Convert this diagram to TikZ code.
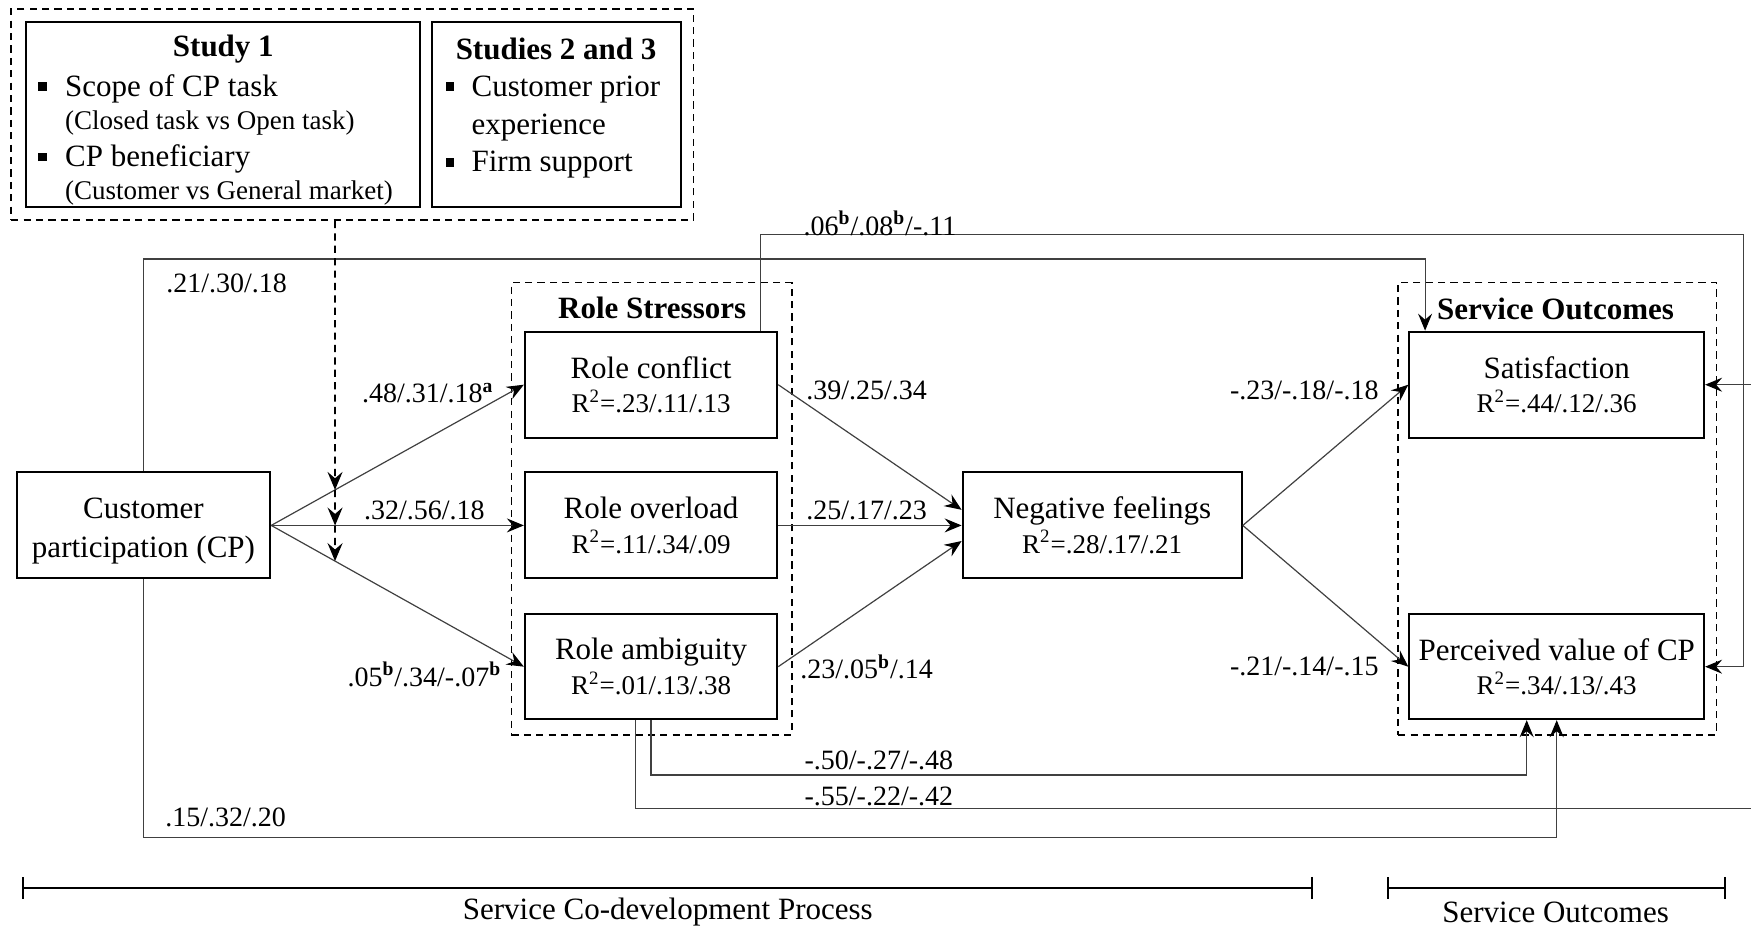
\documentclass[tikz,border=0pt]{standalone}
\usepackage{fontspec}
\setmainfont{Liberation Serif}
\usetikzlibrary{arrows.meta,calc}
\newcommand\sqbul{\rule[0.17em]{4.2pt}{4.2pt}}
\newcommand\supb{\textsuperscript{\textbf{b}}}
\newcommand\supa{\textsuperscript{\textbf{a}}}
\newcommand\rsq{\fontsize{13.5}{15}\selectfont}
\begin{document}
\begin{tikzpicture}[x=0.5583pt,y=-0.5583pt,
  boxsize/.style 2 args={minimum width=#1*0.5583pt,minimum height=#2*0.5583pt},
  solidbox/.style={draw=black,line width=1pt,inner sep=0pt,align=center,font=\fontsize{15.5}{17.3}\selectfont},
  dashbox/.style={draw=black,line width=0.9pt,dash pattern=on 3.6pt off 2.6pt,inner sep=0pt},
  title/.style={font=\fontsize{15.5}{17}\selectfont\bfseries,inner sep=0pt},
  lbl/.style={font=\fontsize{14}{16}\selectfont,inner sep=0pt},
  txt/.style={font=\fontsize{15.5}{17}\selectfont,inner sep=0pt,anchor=base west},
  subtxt/.style={font=\fontsize{13.5}{15}\selectfont,inner sep=0pt,anchor=base west},
  conn/.style={draw=black!75,line width=0.6pt,-{Stealth[length=8.5pt,width=7pt,inset=3pt,black]}},
  modarrow/.style={draw=black,line width=0.9pt,dash pattern=on 3.6pt off 2.6pt,-{Stealth[length=9pt,width=7.5pt,inset=3.2pt]}},
  bracket/.style={draw=black,line width=1pt,{Bar[width=11pt]}-{Bar[width=11pt]}},
]
\useasboundingbox (0,0) rectangle (1568,831);
\clip (0,0) rectangle (1568,831);

% moderators
\node[dashbox,boxsize={611}{189}] (mod) at (315.5,102.5) {};
\node[solidbox,boxsize={353}{165}] (s1) at (199.5,102.5) {};
\node[solidbox,boxsize={223}{165}] (s23) at (498.5,102.5) {};
\node[title] (s1t) at (200,44) {Study 1};
\node[txt] (s1a) at (34,86) {\makebox[13.4pt][l]{\sqbul}Scope of CP task};
\node[subtxt] (s1b) at (58,116) {(Closed task vs Open task)};
\node[txt] (s1c) at (34,149) {\makebox[13.4pt][l]{\sqbul}CP beneficiary};
\node[subtxt] (s1d) at (58,179) {(Customer vs General market)};
\node[title] (s23t) at (498,44) {Studies 2 and 3};
\node[txt] (s23a) at (399,86) {\makebox[12.8pt][l]{\sqbul}Customer prior};
\node[txt] (s23b) at (422,120) {experience};
\node[txt] (s23c) at (399,154) {\makebox[12.8pt][l]{\sqbul}Firm support};

% main nodes
\node[solidbox,boxsize={227}{95}] (cp) at (128.5,470.5) {\rule{0pt}{16pt}Customer\\[2pt]participation (CP)};
\node[dashbox,boxsize={251}{405}] (rs) at (583.5,455.5) {};
\node[title] (rst) at (584,276) {Role Stressors};
\node[solidbox,boxsize={226}{95}] (rc) at (583,344.5) {Role conflict\\{\rsq R\textsuperscript{2}=.23/.11/.13}};
\node[solidbox,boxsize={226}{95}] (ro) at (583,470.5) {Role overload\\{\rsq R\textsuperscript{2}=.11/.34/.09}};
\node[solidbox,boxsize={226}{94}] (ra) at (583,597) {Role ambiguity\\{\rsq R\textsuperscript{2}=.01/.13/.38}};
\node[solidbox,boxsize={250}{95}] (nf) at (987,470.5) {Negative feelings\\{\rsq R\textsuperscript{2}=.28/.17/.21}};
\node[dashbox,boxsize={285}{405}] (so) at (1394.5,455.5) {};
\node[title] (sot) at (1393,277) {Service Outcomes};
\node[solidbox,boxsize={264}{95}] (sat) at (1394,344.5) {Satisfaction\\{\rsq R\textsuperscript{2}=.44/.12/.36}};
\node[solidbox,boxsize={264}{94}] (pv) at (1394,597) {Perceived value of CP\\{\rsq R\textsuperscript{2}=.34/.13/.43}};

% route coordinates
\coordinate (yA) at (0,210);
\coordinate (yB) at (0,232);
\coordinate (yC) at (0,694);
\coordinate (yD) at (0,724);
\coordinate (yE) at (0,750);
\coordinate (xR1) at (1561,0);
\coordinate (xR2) at (1600,0);
\coordinate (satin) at ([xshift=8.4pt]sat.north west);
\coordinate (rcout) at ([xshift=-8.9pt]rc.north east);
\coordinate (raout) at ([xshift=-7.8pt]ra.south);
\coordinate (pvin) at ([xshift=-15pt]pv.south);

% connectors
\draw[conn] (cp.east) -- (rc.west);
\draw[conn] (cp.east) -- (ro.west);
\draw[conn] (cp.east) -- (ra.west);
\draw[conn] (rc.east) -- ([yshift=7.8pt]nf.west);
\draw[conn] (ro.east) -- (nf.west);
\draw[conn] (ra.east) -- ([yshift=-7.8pt]nf.west);
\draw[conn] (nf.east) -- (sat.west);
\draw[conn] (nf.east) -- (pv.west);
\draw[conn] (cp.north) |- (yB -| satin) -- (satin);
\draw[conn] (cp.south) |- (yE -| pv.south) -- (pv.south);
\draw[conn] (rcout) |- (yA -| xR1) |- (pv.east);
\draw[conn] (ra.south) |- (yC -| pvin) -- (pvin);
\draw[conn] (raout) |- (yD -| xR2) |- (sat.east);

% moderator arrows
\coordinate (m0) at ([xshift=-8.65pt]mod.south);
\coordinate (m9) at (m0 |- ra.south);
\coordinate (t1) at (intersection of cp.east--rc.west and m0--m9);
\coordinate (t2) at (intersection of cp.east--ro.west and m0--m9);
\coordinate (t3) at (intersection of cp.east--ra.west and m0--m9);
\draw[modarrow] (m0) -- (t1);
\draw[modarrow] (t1) -- (t2);
\draw[modarrow] (t2) -- (t3);

% coefficient labels
\node[lbl] (l1) at (788,200) {.06\supb/.08\supb/-.11};
\node[lbl] (l2) at (203,254) {.21/.30/.18};
\node[lbl] (l3) at (383,352) {.48/.31/.18\supa};
\node[lbl] (l4) at (380,457) {.32/.56/.18};
\node[lbl] (l5) at (380,604) {.05\supb/.34/-.07\supb};
\node[lbl] (l6) at (776,350) {.39/.25/.34};
\node[lbl] (l7) at (776,457) {.25/.17/.23};
\node[lbl] (l8) at (776,597) {.23/.05\supb/.14};
\node[lbl] (l9) at (1168,350) {-.23/-.18/-.18};
\node[lbl] (l10) at (1168,597) {-.21/-.14/-.15};
\node[lbl] (l11) at (787,681) {-.50/-.27/-.48};
\node[lbl] (l12) at (787,713) {-.55/-.22/-.42};
\node[lbl] (l13) at (202,732) {.15/.32/.20};

% bottom brackets
\coordinate (b1l) at (20,795);
\coordinate (b1r) at (1176,795);
\coordinate (b2l) at (1242,795);
\coordinate (b2r) at (1546,795);
\draw[bracket] (b1l) -- (b1r);
\draw[bracket] (b2l) -- (b2r);
\node[font=\fontsize{15.5}{17}\selectfont,inner sep=0pt] (bl1) at (598,817) {Service Co-development Process};
\node[font=\fontsize{15.5}{17}\selectfont,inner sep=0pt] (bl2) at (1393,817) {Service Outcomes};
\end{tikzpicture}
\end{document}
